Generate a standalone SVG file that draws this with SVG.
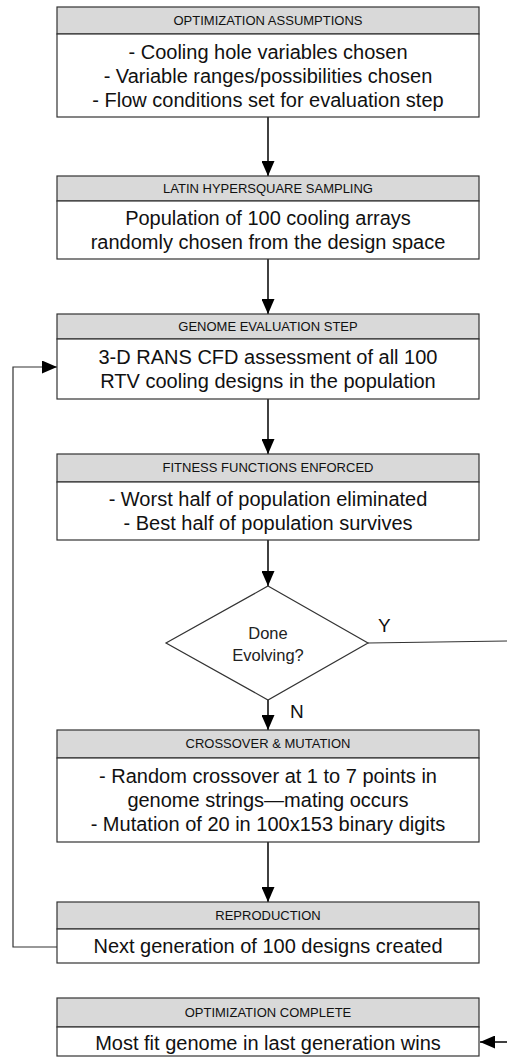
<svg xmlns="http://www.w3.org/2000/svg" width="507" height="1057" viewBox="0 0 507 1057">
<defs>
<style>
.hd{fill:#d9d9d9;stroke:#333;stroke-width:1.2}
.bd{fill:#fff;stroke:#333;stroke-width:1.2}
.ht{font-family:"Liberation Sans",Arial,sans-serif;font-size:13px;fill:#111;text-anchor:middle}
.bt{font-family:"Liberation Sans",Arial,sans-serif;font-size:20px;fill:#111;text-anchor:middle}
.dt{font-family:"Liberation Sans",Arial,sans-serif;font-size:16.5px;fill:#222;text-anchor:middle}
.lb{font-family:"Liberation Sans",Arial,sans-serif;font-size:19px;fill:#111}
.cn{fill:none;stroke:#111;stroke-width:1.6}
.cn2{fill:none;stroke:#333;stroke-width:1.2}
</style>
<marker id="ah" markerWidth="15" markerHeight="13" refX="15" refY="6.5" orient="auto" markerUnits="userSpaceOnUse">
<path d="M0,0 L15,6.5 L0,13 Z" fill="#000"/>
</marker>
</defs>
<rect width="507" height="1057" fill="#fff"/>
<g id="connectors">
<line class="cn" x1="268" y1="117" x2="268" y2="176" marker-end="url(#ah)"/>
<line class="cn" x1="268" y1="259" x2="268" y2="314" marker-end="url(#ah)"/>
<line class="cn" x1="268" y1="399" x2="268" y2="454" marker-end="url(#ah)"/>
<line class="cn" x1="268" y1="540" x2="268" y2="586" marker-end="url(#ah)"/>
<line class="cn" x1="268" y1="700" x2="268" y2="730" marker-end="url(#ah)"/>
<line class="cn" x1="268" y1="842" x2="268" y2="902" marker-end="url(#ah)"/>
<polyline class="cn2" points="57,947 13,947 13,367 57,367" marker-end="url(#ah)"/>
<line class="cn2" x1="368" y1="643" x2="507" y2="641"/>
<line class="cn" x1="507" y1="1042" x2="480" y2="1042" marker-end="url(#ah)"/>
</g>
<g id="n1">
<rect class="hd" x="57" y="7" width="422" height="27"/>
<rect class="bd" x="57" y="34" width="422" height="83"/>
<text class="ht" x="268" y="25">OPTIMIZATION ASSUMPTIONS</text>
<text class="bt" x="268" y="59">- Cooling hole variables chosen</text>
<text class="bt" x="268" y="83">- Variable ranges/possibilities chosen</text>
<text class="bt" x="268" y="107">- Flow conditions set for evaluation step</text>
</g>
<g id="n2">
<rect class="hd" x="57" y="176" width="422" height="25"/>
<rect class="bd" x="57" y="201" width="422" height="58"/>
<text class="ht" x="268" y="193">LATIN HYPERSQUARE SAMPLING</text>
<text class="bt" x="268" y="225">Population of 100 cooling arrays</text>
<text class="bt" x="268" y="249">randomly chosen from the design space</text>
</g>
<g id="n3">
<rect class="hd" x="57" y="314" width="422" height="25"/>
<rect class="bd" x="57" y="339" width="422" height="60"/>
<text class="ht" x="268" y="331">GENOME EVALUATION STEP</text>
<text class="bt" x="268" y="364">3-D RANS CFD assessment of all 100</text>
<text class="bt" x="268" y="388">RTV cooling designs in the population</text>
</g>
<g id="n4">
<rect class="hd" x="57" y="454" width="422" height="28"/>
<rect class="bd" x="57" y="482" width="422" height="58"/>
<text class="ht" x="268" y="472">FITNESS FUNCTIONS ENFORCED</text>
<text class="bt" x="268" y="506">- Worst half of population eliminated</text>
<text class="bt" x="268" y="530">- Best half of population survives</text>
</g>
<g id="n5">
<polygon class="bd" points="268,586 368,643 268,700 166,643"/>
<text class="dt" x="268" y="639">Done</text>
<text class="dt" x="268" y="661">Evolving?</text>
</g>
<text class="lb" x="378" y="632">Y</text>
<text class="lb" x="290" y="718">N</text>
<g id="n6">
<rect class="hd" x="57" y="730" width="422" height="28"/>
<rect class="bd" x="57" y="758" width="422" height="84"/>
<text class="ht" x="268" y="748">CROSSOVER &amp; MUTATION</text>
<text class="bt" x="268" y="783">- Random crossover at 1 to 7 points in</text>
<text class="bt" x="268" y="807">genome strings—mating occurs</text>
<text class="bt" x="268" y="831">- Mutation of 20 in 100x153 binary digits</text>
</g>
<g id="n7">
<rect class="hd" x="57" y="902" width="422" height="27"/>
<rect class="bd" x="57" y="929" width="422" height="34"/>
<text class="ht" x="268" y="920">REPRODUCTION</text>
<text class="bt" x="268" y="953">Next generation of 100 designs created</text>
</g>
<g id="n8">
<rect class="hd" x="57" y="998" width="422" height="29"/>
<rect class="bd" x="57" y="1027" width="422" height="29"/>
<text class="ht" x="268" y="1017">OPTIMIZATION COMPLETE</text>
<text class="bt" x="268" y="1050">Most fit genome in last generation wins</text>
</g>
</svg>
